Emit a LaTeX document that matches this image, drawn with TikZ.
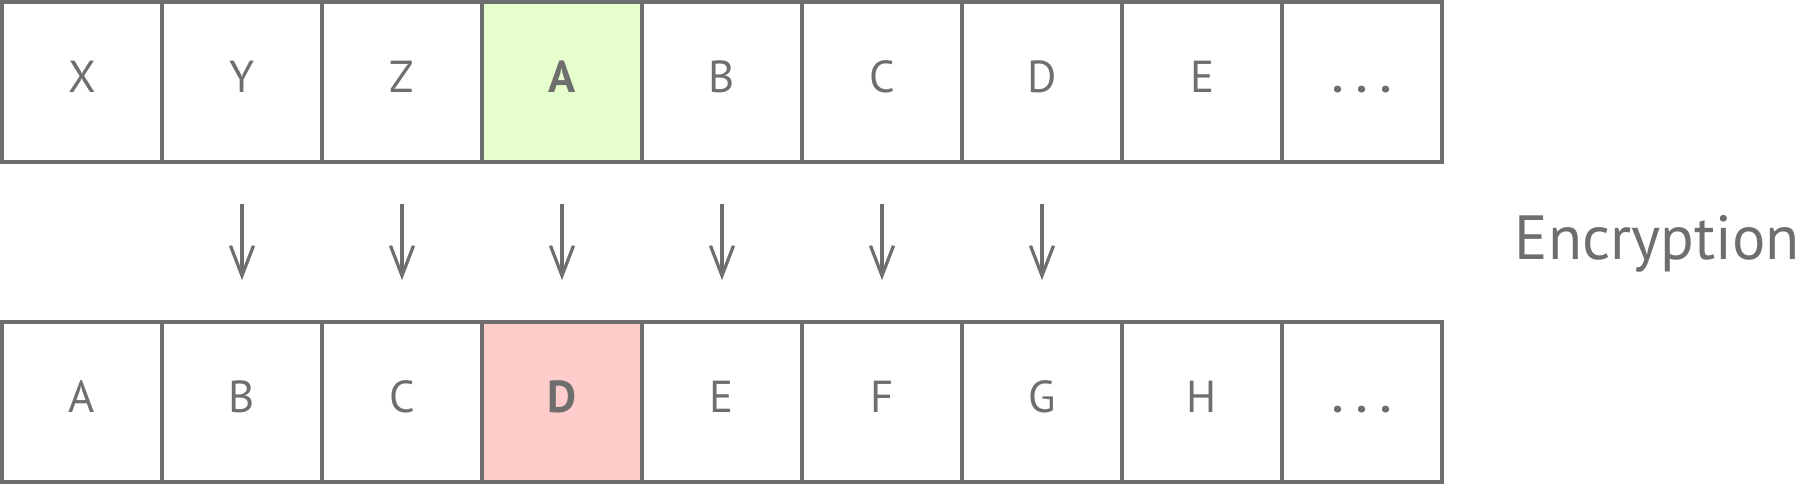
\documentclass[tikz,border=0pt]{standalone}
\usepackage{fontspec}
\setmainfont{PT Sans}
\usepackage{tikz}
\usetikzlibrary{arrows.meta}

\definecolor{cellgray}{HTML}{6E6E6E}
\definecolor{shiftgreen}{HTML}{E6FFCC}
\definecolor{shiftred}{HTML}{FFCCCC}

\begin{document}
\begin{tikzpicture}[
    cell/.style={draw=cellgray, line width=0.07cm, minimum width=3.2cm, minimum height=3.2cm,
      text=cellgray, inner sep=0pt, text height=0.42cm, text depth=0pt,
      font=\fontsize{25.5pt}{30pt}\selectfont},
    shiftarrow/.style={draw=cellgray, line width=0.065cm,
      -{Straight Barb[length=0.6cm, width=0.46cm, line width=0.065cm]},
      shorten <=0.8cm, shorten >=0.8cm}
  ]
      \useasboundingbox (0,0) rectangle (36.16,9.68);

      % plain alphabet
      \node[cell] (tX) at (1.64,8.04) {X};
      \node[cell] (tY) at (4.84,8.04) {Y};
      \node[cell] (tZ) at (8.04,8.04) {Z};
      \node[cell] (tA) at (11.24,8.04) {};
      \node[cell] (tB) at (14.44,8.04) {B};
      \node[cell] (tC) at (17.64,8.04) {C};
      \node[cell] (tD) at (20.84,8.04) {D};
      \node[cell] (tE) at (24.04,8.04) {E};
      \node[cell] (tdots) at (27.24,8.04) {\textbf{.\hspace{0.26cm}.\hspace{0.26cm}.}};

      % cipher alphabet
      \node[cell] (bA) at (1.64,1.64) {A};
      \node[cell] (bB) at (4.84,1.64) {B};
      \node[cell] (bC) at (8.04,1.64) {C};
      \node[cell] (bD) at (11.24,1.64) {};
      \node[cell] (bE) at (14.44,1.64) {E};
      \node[cell] (bF) at (17.64,1.64) {F};
      \node[cell] (bG) at (20.84,1.64) {G};
      \node[cell] (bH) at (24.04,1.64) {H};
      \node[cell] (bdots) at (27.24,1.64) {\textbf{.\hspace{0.26cm}.\hspace{0.26cm}.}};

      \node[cell, fill=shiftgreen, font=\fontsize{25.5pt}{30pt}\selectfont\bfseries] at (tA) {A};
      \node[cell, fill=shiftred, font=\fontsize{25.5pt}{30pt}\selectfont\bfseries] at (bD) {D};

      \draw[shiftarrow] (tY.south) -- (bB.north);
      \draw[shiftarrow] (tZ.south) -- (bC.north);
      \draw[shiftarrow] (tA.south) -- (bD.north);
      \draw[shiftarrow] (tB.south) -- (bE.north);
      \draw[shiftarrow] (tC.south) -- (bF.north);
      \draw[shiftarrow] (tD.south) -- (bG.north);

      \node[text=cellgray, anchor=base, font=\fontsize{35.5pt}{42pt}\selectfont] (enc) at (33.15,4.48) {Encryption};
\end{tikzpicture}
\end{document}
